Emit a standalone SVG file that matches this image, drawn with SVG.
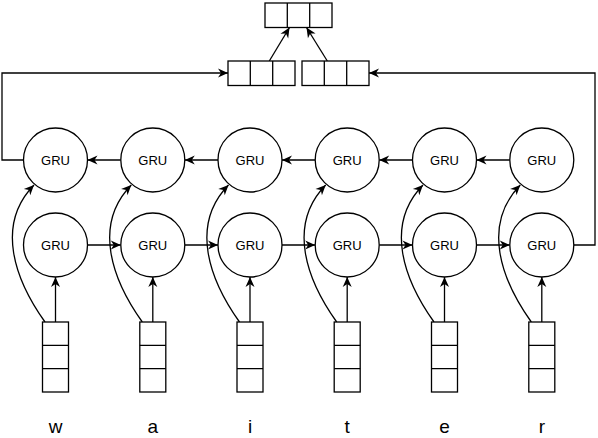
<svg xmlns="http://www.w3.org/2000/svg" width="598" height="438" viewBox="0 0 598 438">
<style>
.s{fill:none;stroke:#000;stroke-width:1.3}
.b{fill:#fff;stroke:#000;stroke-width:1.3}
.g{font-family:"Liberation Sans",Arial,sans-serif;font-size:13px;text-anchor:middle;fill:#000}
.l{font-family:"Liberation Sans",Arial,sans-serif;font-size:19px;text-anchor:middle;fill:#000}
.c{fill:none;stroke:#000;stroke-width:1.3;marker-end:url(#a)}
</style>
<defs>
<marker id="a" markerUnits="userSpaceOnUse" markerWidth="12" markerHeight="10" refX="10" refY="4.5" orient="auto" overflow="visible">
<path d="M0,0 L10,4.5 L0,9 L3,4.5 Z" fill="#000"/>
</marker>
</defs>
<g id="connectors">
<path class="c" d="M23.5,160 H2 V73 H228"/>
<path class="c" d="M573.8,245 H595 V73 H369"/>
<path class="c" d="M269.3,61 L289.5,27.5"/>
<path class="c" d="M327.3,61 L306.5,27.5"/>
<path class="c" d="M509.8,160 H476.5"/>
<path class="c" d="M412.5,160 H379.2"/>
<path class="c" d="M315.2,160 H282"/>
<path class="c" d="M218,160 H184.8"/>
<path class="c" d="M120.8,160 H87.5"/>
<path class="c" d="M87.5,245 H120.8"/>
<path class="c" d="M184.8,245 H218"/>
<path class="c" d="M282,245 H315.2"/>
<path class="c" d="M379.2,245 H412.5"/>
<path class="c" d="M476.5,245 H509.8"/>
<path class="c" d="M55.5,322 V277"/>
<path class="c" d="M152.8,322 V277"/>
<path class="c" d="M250,322 V277"/>
<path class="c" d="M347.2,322 V277"/>
<path class="c" d="M444.5,322 V277"/>
<path class="c" d="M541.8,322 V277"/>
<path class="c" d="M45,322 C15,280 -5,225 34,185"/>
<path class="c" d="M142.3,322 C112.3,280 92.3,225 131.3,185"/>
<path class="c" d="M239.5,322 C209.5,280 189.5,225 228.5,185"/>
<path class="c" d="M336.7,322 C306.7,280 286.7,225 325.7,185"/>
<path class="c" d="M434,322 C404,280 384,225 423,185"/>
<path class="c" d="M531.3,322 C501.3,280 481.3,225 520.3,185"/>
</g>
<g id="out">
<rect class="b" x="265" y="3" width="67" height="24.5"/>
<path class="s" d="M287.3,3 V27.5 M309.7,3 V27.5"/>
</g>
<g id="fwd-state">
<rect class="b" x="228" y="61" width="67" height="24.5"/>
<path class="s" d="M250.3,61 V85.5 M272.7,61 V85.5"/>
</g>
<g id="bwd-state">
<rect class="b" x="302" y="61" width="67" height="24.5"/>
<path class="s" d="M324.3,61 V85.5 M346.7,61 V85.5"/>
</g>
<g id="top1"><circle class="b" cx="55.5" cy="160" r="32"/><text class="g" x="55.5" y="164.5">GRU</text></g>
<g id="top2"><circle class="b" cx="152.8" cy="160" r="32"/><text class="g" x="152.8" y="164.5">GRU</text></g>
<g id="top3"><circle class="b" cx="250" cy="160" r="32"/><text class="g" x="250" y="164.5">GRU</text></g>
<g id="top4"><circle class="b" cx="347.2" cy="160" r="32"/><text class="g" x="347.2" y="164.5">GRU</text></g>
<g id="top5"><circle class="b" cx="444.5" cy="160" r="32"/><text class="g" x="444.5" y="164.5">GRU</text></g>
<g id="top6"><circle class="b" cx="541.8" cy="160" r="32"/><text class="g" x="541.8" y="164.5">GRU</text></g>
<g id="bot1"><circle class="b" cx="55.5" cy="245" r="32"/><text class="g" x="55.5" y="249.5">GRU</text></g>
<g id="bot2"><circle class="b" cx="152.8" cy="245" r="32"/><text class="g" x="152.8" y="249.5">GRU</text></g>
<g id="bot3"><circle class="b" cx="250" cy="245" r="32"/><text class="g" x="250" y="249.5">GRU</text></g>
<g id="bot4"><circle class="b" cx="347.2" cy="245" r="32"/><text class="g" x="347.2" y="249.5">GRU</text></g>
<g id="bot5"><circle class="b" cx="444.5" cy="245" r="32"/><text class="g" x="444.5" y="249.5">GRU</text></g>
<g id="bot6"><circle class="b" cx="541.8" cy="245" r="32"/><text class="g" x="541.8" y="249.5">GRU</text></g>
<g id="in1"><rect class="b" x="42.5" y="322" width="26" height="70"/><path class="s" d="M42.5,345.3 H68.5 M42.5,368.7 H68.5"/></g>
<g id="in2"><rect class="b" x="139.8" y="322" width="26" height="70"/><path class="s" d="M139.8,345.3 H165.8 M139.8,368.7 H165.8"/></g>
<g id="in3"><rect class="b" x="237" y="322" width="26" height="70"/><path class="s" d="M237,345.3 H263 M237,368.7 H263"/></g>
<g id="in4"><rect class="b" x="334.2" y="322" width="26" height="70"/><path class="s" d="M334.2,345.3 H360.2 M334.2,368.7 H360.2"/></g>
<g id="in5"><rect class="b" x="431.5" y="322" width="26" height="70"/><path class="s" d="M431.5,345.3 H457.5 M431.5,368.7 H457.5"/></g>
<g id="in6"><rect class="b" x="528.8" y="322" width="26" height="70"/><path class="s" d="M528.8,345.3 H554.8 M528.8,368.7 H554.8"/></g>
<g id="labels">
<text class="l" x="55.5" y="433">w</text>
<text class="l" x="152.8" y="433">a</text>
<text class="l" x="250" y="433">i</text>
<text class="l" x="347.2" y="433">t</text>
<text class="l" x="444.5" y="433">e</text>
<text class="l" x="541.8" y="433">r</text>
</g>
</svg>
